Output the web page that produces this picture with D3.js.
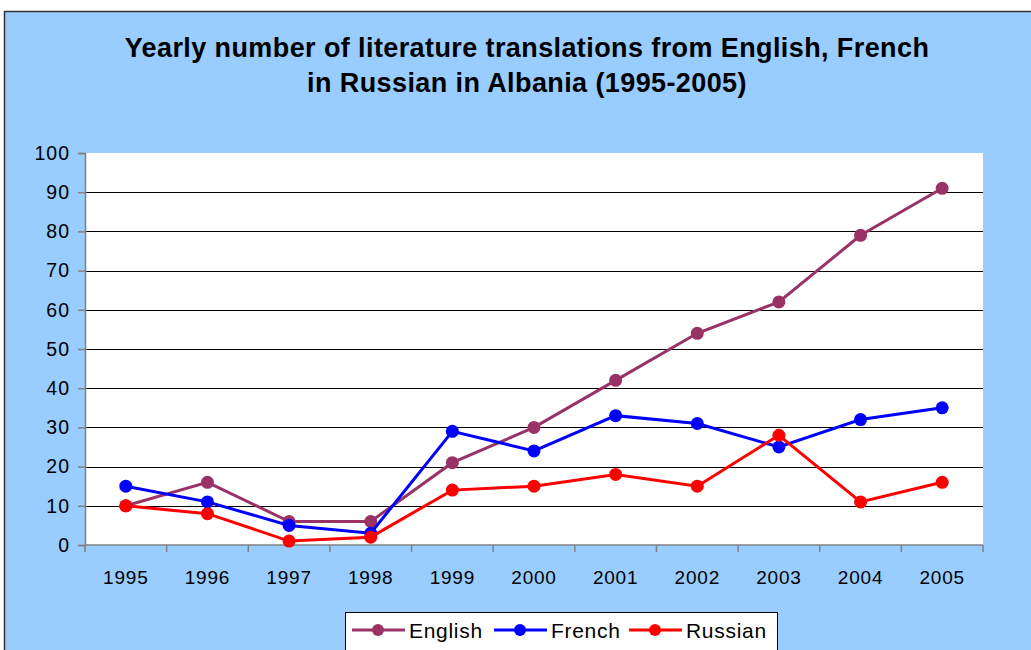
<!DOCTYPE html>
<html>
<head>
<meta charset="utf-8">
<script src="https://cdn.jsdelivr.net/npm/d3@7"></script>
<style>
  body { margin: 0; background: #fff; }
  svg text { font-family: "Liberation Sans", Arial, sans-serif; }
</style>
</head>
<body>
<div id="chart"></div>
<script>
const w = 1031, h = 650;

const years = ["1995", "1996", "1997", "1998", "1999", "2000", "2001", "2002", "2003", "2004", "2005"];
const english = [10, 16, 6, 6, 21, 30, 42, 54, 62, 79, 91];
const french = [15, 11, 5, 3, 29, 24, 33, 31, 25, 32, 35];
const russian = [10, 8, 1, 2, 14, 15, 18, 15, 28, 11, 16];
const yTicks = [0, 10, 20, 30, 40, 50, 60, 70, 80, 90, 100];
const titleLines = ["Yearly number of literature translations from English, French", "in Russian in Albania (1995-2005)"];

const series = [
  {name: "English", values: english, color: "#993366"},
  {name: "French", values: french, color: "#0000FF"},
  {name: "Russian", values: russian, color: "#FF0000"}
];

const svg = d3.select("#chart").append("svg")
  .attr("width", w).attr("height", h);

// chart background with border
svg.append("rect")
  .attr("x", 4.5).attr("y", 11.5)
  .attr("width", w + 10).attr("height", h + 10)
  .attr("fill", "#99CCFF")
  .attr("stroke", "#333").attr("stroke-width", 1.5);

const plotL = 85, plotR = 983, plotT = 153, plotB = 545;

svg.append("rect")
  .attr("x", plotL).attr("y", plotT)
  .attr("width", plotR - plotL).attr("height", plotB - plotT)
  .attr("fill", "#fff");

const x = d3.scaleBand().domain(years).range([plotL, plotR]);
const y = d3.scaleLinear().domain([0, 100]).range([plotB, plotT]);

// gridlines
svg.append("g")
  .selectAll("line")
  .data(yTicks.filter(d => d > 0 && d < 100))
  .join("line")
  .attr("x1", plotL).attr("x2", plotR)
  .attr("y1", d => Math.round(y(d)) + 0.5).attr("y2", d => Math.round(y(d)) + 0.5)
  .attr("stroke", "#000").attr("stroke-width", 1);

// y axis
const yAxis = svg.append("g")
  .attr("transform", "translate(" + plotL + ",0)")
  .call(d3.axisLeft(y).tickValues(yTicks).tickSize(7).tickPadding(8));
yAxis.select(".domain").attr("stroke", "#808080").attr("stroke-width", 1.5);
yAxis.selectAll(".tick line").attr("stroke", "#808080").attr("stroke-width", 1.5);
yAxis.selectAll("text").attr("font-size", 19.5).attr("fill", "#000")
  .attr("letter-spacing", 1)
  .attr("font-family", "'Liberation Sans', Arial, sans-serif");

// x axis with ticks between categories
const xg = svg.append("g").attr("transform", "translate(0," + plotB + ")");
xg.append("line")
  .attr("x1", plotL).attr("x2", plotR)
  .attr("stroke", "#808080").attr("stroke-width", 1.5);
const boundaries = years.map(d => x(d)).concat([plotR]);
xg.selectAll(".xt").data(boundaries).join("line")
  .attr("class", "xt")
  .attr("x1", d => d).attr("x2", d => d)
  .attr("y1", 0).attr("y2", 7)
  .attr("stroke", "#808080").attr("stroke-width", 1.5);
xg.selectAll("text").data(years).join("text")
  .attr("x", d => x(d) + x.bandwidth() / 2)
  .attr("y", 39)
  .attr("text-anchor", "middle")
  .attr("font-size", 19)
  .attr("letter-spacing", 0.8)
  .text(d => d);

// lines and markers
const line = d3.line()
  .x((d, i) => x(years[i]) + x.bandwidth() / 2)
  .y(d => y(d));

series.forEach(s => {
  svg.append("path")
    .datum(s.values)
    .attr("fill", "none")
    .attr("stroke", s.color)
    .attr("stroke-width", 3)
    .attr("d", line);
  svg.append("g").selectAll("circle")
    .data(s.values).join("circle")
    .attr("cx", (d, i) => x(years[i]) + x.bandwidth() / 2)
    .attr("cy", d => y(d))
    .attr("r", 6.5)
    .attr("fill", s.color);
});

// title
svg.append("text")
  .attr("x", 527).attr("y", 57)
  .attr("text-anchor", "middle")
  .attr("font-size", 27).attr("font-weight", "bold")
  .attr("letter-spacing", 0.4)
  .selectAll("tspan").data(titleLines).join("tspan")
  .attr("x", 527).attr("dy", (d, i) => i === 0 ? 0 : 35)
  .text(d => d);

// legend
const legend = svg.append("g");
legend.append("rect")
  .attr("x", 345.5).attr("y", 612.5)
  .attr("width", 432).attr("height", 40)
  .attr("fill", "#fff").attr("stroke", "#000").attr("stroke-width", 1);
const legendX = [352, 494, 629];
series.forEach((s, i) => {
  const lx = legendX[i];
  legend.append("line")
    .attr("x1", lx).attr("x2", lx + 53)
    .attr("y1", 630).attr("y2", 630)
    .attr("stroke", s.color).attr("stroke-width", 3);
  legend.append("circle")
    .attr("cx", lx + 26).attr("cy", 630).attr("r", 6)
    .attr("fill", s.color);
  legend.append("text")
    .attr("x", lx + 57).attr("y", 637.5)
    .attr("font-size", 21)
    .attr("letter-spacing", 0.7)
    .text(s.name);
});
</script>
</body>
</html>
